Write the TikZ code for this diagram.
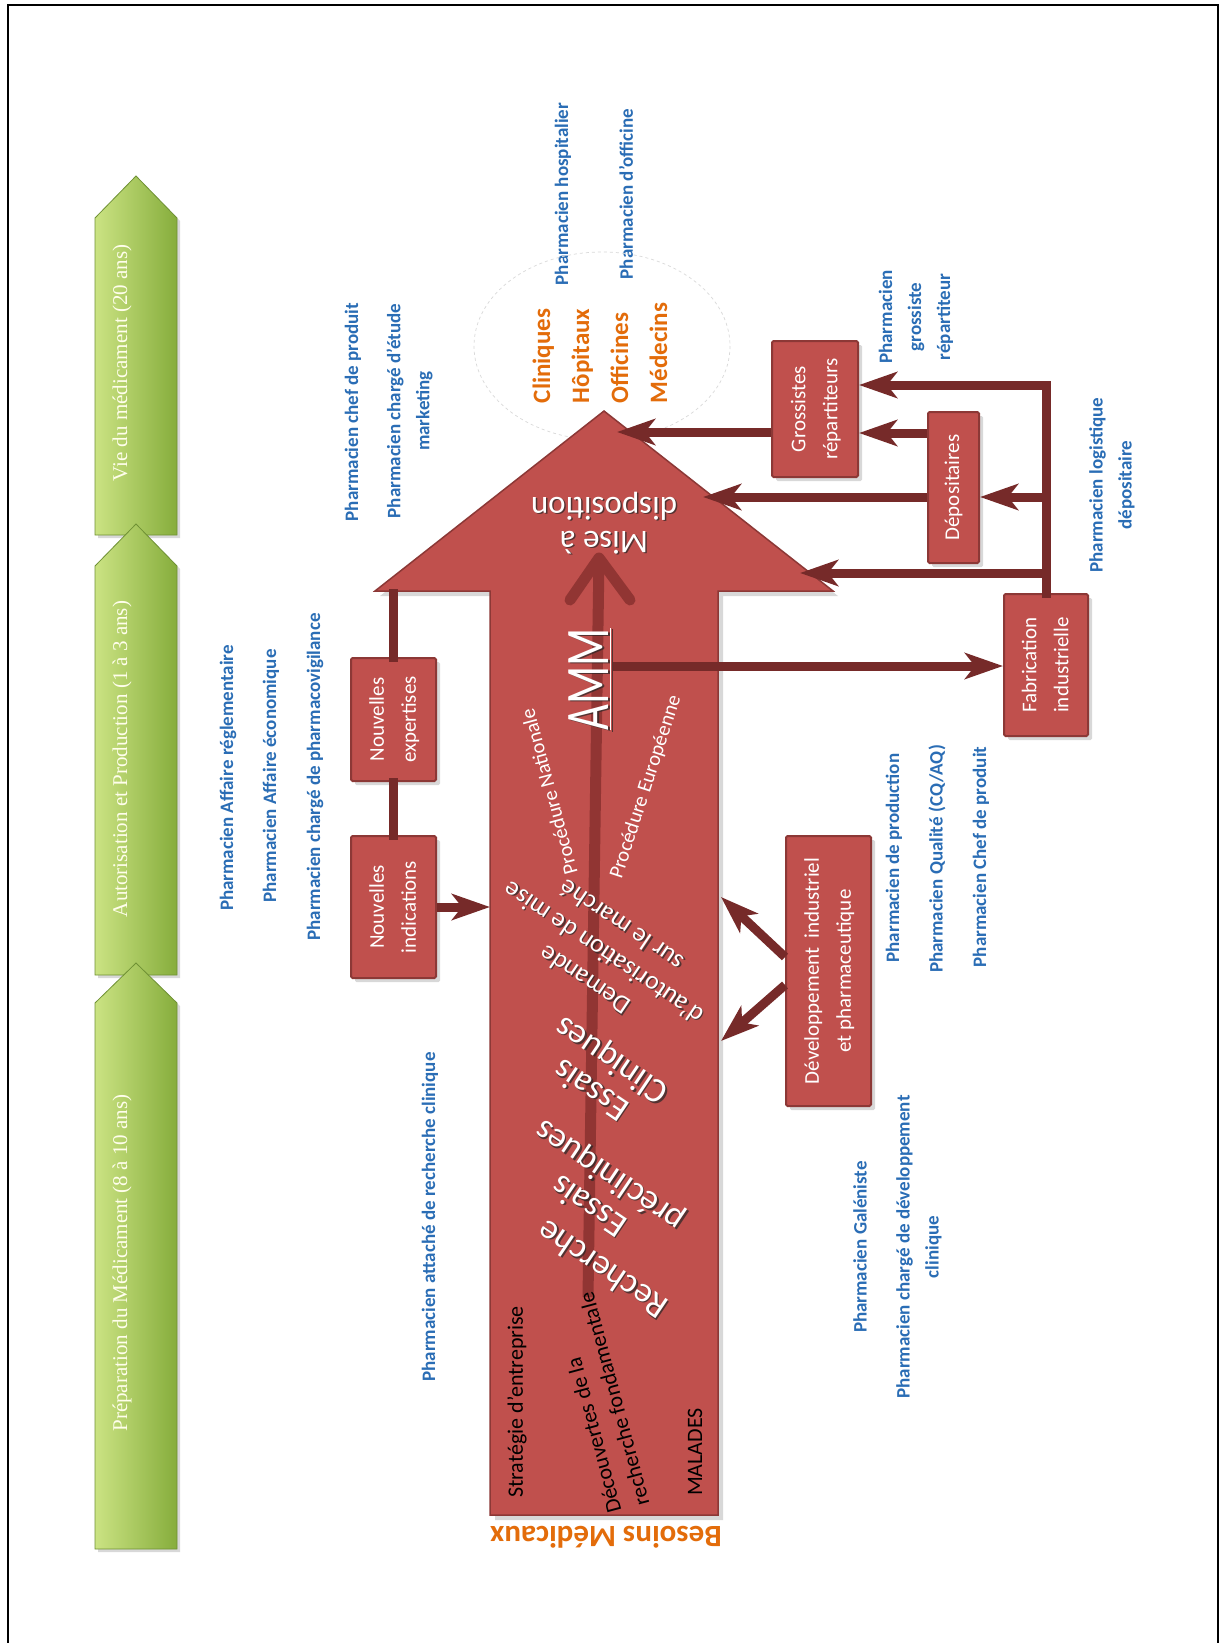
\documentclass[tikz,border=0pt]{standalone}
\usepackage{fontspec}
\usepackage{graphicx}
\setmainfont{Carlito}
\newfontfamily\serifx{Liberation Serif}
\usetikzlibrary{arrows.meta,calc,shadows}
\definecolor{boxred}{HTML}{C0504D}
\definecolor{boxedge}{HTML}{8C3836}
\definecolor{rodc}{HTML}{762A29}
\definecolor{inner}{HTML}{7E2A28}
\definecolor{bluet}{HTML}{2A6DB5}
\definecolor{orng}{HTML}{E36C0A}
\definecolor{gl}{HTML}{CBE383}
\definecolor{gd}{HTML}{86AD3C}
\definecolor{ge}{HTML}{6F9134}
\newcommand\wst[4]{%
  \node[#2,text=black!85,opacity=0.7] (#1-s) at ($(#3)+(1.5,1.5)$) {#4};
  \node[#2,text=white] (#1) at (#3) {#4};}
\begin{document}
\begin{tikzpicture}[x=1pt,y=-1pt,
  redbox/.style={draw=boxedge, line width=2pt, fill=boxred, rounded corners=1.5pt, text=white, inner sep=0pt,
     font=\fontsize{21}{32}\selectfont,
     drop shadow={shadow xshift=4pt, shadow yshift=-4pt, opacity=0.3}},
  bluelab/.style={text=bluet, font=\bfseries\fontsize{19}{29}\selectfont, rotate=90, align=center, inner sep=0pt},
  greenarr/.style={left color=gl, right color=gd, draw=ge, line width=0.8pt,
     drop shadow={shadow xshift=3pt, shadow yshift=-3pt, opacity=0.3}},
  greentxt/.style={text=white!92!yellow, font=\serifx\fontsize{21}{25}\selectfont, rotate=90, inner sep=0pt},
  rod/.style={draw=rodc, line width=9pt, line cap=rect},
  rodarr/.style={draw=rodc, line width=9pt, -{Stealth[length=38pt, width=26pt, inset=10pt]}},
  blk/.style={text=black, font=\fontsize{22}{29}\selectfont, inner sep=0pt},
  slant/.style={font=\fontsize{35}{36}\selectfont, align=center, inner sep=0pt, rotate=146},
]
\useasboundingbox (0,0) rectangle (1223,1643);
\fill[white] (0,0) rectangle (1223,1643);
\draw[line width=1.2pt] (8,1643) -- (8,5) -- (1218,5) -- (1218,1643);

% ---------- green phase arrows
\shade[greenarr] (95,535) -- (95,218) -- (136,176) -- (177,218) -- (177,535) -- cycle;
\shade[greenarr] (95,975) -- (95,566) -- (136,524) -- (177,566) -- (177,975) -- cycle;
\shade[greenarr] (95,1549) -- (95,1003) -- (136,963) -- (177,1003) -- (177,1549) -- cycle;
\node[greentxt] (g1) at (122,363) {Vie du médicament (20 ans)};
\node[greentxt] (g2) at (122,759) {Autorisation et Production (1 à 3 ans)};
\node[greentxt] (g3) at (122,1263) {Préparation du Médicament (8 à 10 ans)};

% ---------- blue labels
\node[bluelab] (bl1) at (353,412) {Pharmacien chef de produit};
\node[bluelab] (bl2) at (409.5,411) {Pharmacien chargé d’étude\\marketing};
\node[bluelab] (bl3) at (563,194) {Pharmacien hospitalier};
\node[bluelab] (bl4) at (626,194) {Pharmacien d’officine};
\node[bluelab] (bl5) at (916,317) {Pharmacien\\grossiste\\répartiteur};
\node[bluelab] (bl6) at (1112,485) {Pharmacien logistique\\dépositaire};
\node[bluelab] (bl7) at (228,778) {Pharmacien Affaire réglementaire};
\node[bluelab] (bl8) at (271,776) {Pharmacien Affaire économique};
\node[bluelab] (bl9) at (315,777) {Pharmacien chargé de pharmacovigilance};
\node[bluelab] (bl10) at (430,1217) {Pharmacien attaché de recherche clinique};
\node[bluelab] (bl11) at (894,858) {Pharmacien de production};
\node[bluelab] (bl12) at (937,859) {Pharmacien Qualité (CQ/AQ)};
\node[bluelab] (bl13) at (981,857) {Pharmacien Chef de produit};
\node[bluelab] (bl14) at (860,1247) {Pharmacien Galéniste};
\node[bluelab] (bl15) at (919,1247) {Pharmacien chargé de développement\\clinique};

% ---------- circle of care places
\draw[black!15, dashed, line width=0.7pt] (602,346) ellipse [x radius=128, y radius=94];
\node[text=orng, font=\bfseries\fontsize{25}{39}\selectfont, rotate=90, align=left, inner sep=0pt] (care) at (600,353)
  {Cliniques\\Hôpitaux\\Officines\\Médecins};

% ---------- big red arrow
\coordinate (tip) at (604,411);
\coordinate (hl) at (375,591);
\coordinate (hr) at (833,591);
\coordinate (sl) at (490,591);
\coordinate (sr) at (718,591);
\coordinate (bl) at (490,1515);
\coordinate (br) at (718,1515);
\filldraw[fill=boxred, draw=boxedge, line width=1.5pt,
  drop shadow={shadow xshift=5pt, shadow yshift=-5pt, opacity=0.3}]
  (bl) -- (sl) -- (hl) -- (tip) -- (hr) -- (sr) -- (br) -- cycle;
\node[text=orng, font=\bfseries\fontsize{31}{31}\selectfont, rotate=180, inner sep=0pt] (besoins) at (606,1537) {Besoins Médicaux};

% ---------- inner progress arrow
\coordinate (ia0) at (588,1297);
\coordinate (ia1) at (599,558);
\begin{scope}[transparency group, opacity=0.7]
\draw[inner, line width=11pt] (ia0) -- (ia1);
\draw[inner, line width=11pt, line cap=round, line join=round] ($(ia1)+(-29,42)$) -- (ia1) -- ($(ia1)+(31,42)$);
\end{scope}

% ---------- boxes
\node[redbox, minimum width=85pt, minimum height=142pt] (ni) at (393.5,907)
  {\rotatebox{90}{\begin{tabular}{@{}c@{}}Nouvelles\\indications\end{tabular}}};
\node[redbox, minimum width=85pt, minimum height=123pt] (ne) at (393.5,719.5)
  {\rotatebox{90}{\begin{tabular}{@{}c@{}}Nouvelles\\expertises\end{tabular}}};
\node[redbox, minimum width=85pt, minimum height=270pt] (dev) at (828.5,971)
  {\rotatebox{90}{\begin{tabular}{@{}c@{}}Développement\ \ industriel\\et pharmaceutique\end{tabular}}};
\node[redbox, minimum width=84pt, minimum height=142pt] (fab) at (1046,665)
  {\rotatebox{90}{\begin{tabular}{@{}c@{}}Fabrication\\industrielle\end{tabular}}};
\node[redbox, minimum width=51pt, minimum height=151pt] (dep) at (953.5,487.5)
  {\rotatebox{90}{Dépositaires}};
\node[redbox, minimum width=86pt, minimum height=136pt] (gr) at (815,409)
  {\rotatebox{90}{\begin{tabular}{@{}c@{}}Grossistes\\répartiteurs\end{tabular}}};

% ---------- connectors
\coordinate (ja) at (393.5,593);
\draw[rod] (ni.north) -- (ne.south);
\draw[rod] (ne.north) -- (ja);
\draw[rodarr] (ni.east) -- (ni.east -| bl);
\coordinate (d1) at (721,897);
\coordinate (d2) at (721,1041);
\draw[rodarr] ($(dev.west)+(0,-14)$) -- (d1);
\draw[rodarr] ($(dev.west)+(0,14)$) -- (d2);
\coordinate (am) at (613,666);
\draw[rodarr] (am) -- (am -| fab.west);
\coordinate (t1) at (1046,385);
\coordinate (t2) at (1046,497);
\coordinate (t3) at (1046,573);
\draw[rod] (fab.north) -- (t1);
\draw[rodarr] (t1) -- (t1 -| gr.east);
\draw[rodarr] (t2) -- (t2 -| dep.east);
\coordinate (h3) at (800,573);
\draw[rodarr] (t3) -- (h3);
\coordinate (r433) at (900,433);
\draw[rodarr] (r433 -| dep.west) -- (r433 -| gr.east);
\coordinate (h2) at (703,497);
\draw[rodarr] (h2 -| dep.west) -- (h2);
\coordinate (h1) at (617,432);
\draw[rodarr] (h1 -| gr.west) -- (h1);

% ---------- texts in the big arrow
\wst{amm}{rotate=90, inner sep=0pt}{590,679}{\scalebox{0.72}[1]{\fontsize{62}{62}\selectfont\underline{AMM}}}
\wst{mise}{rotate=180, align=center, inner sep=0pt, font=\fontsize{33}{34}\selectfont}{604,523}{Mise à\\disposition}
\wst{rech}{slant}{602,1270}{Recherche}
\wst{epc}{slant}{600,1190}{Essais\\précliniques}
\wst{ecl}{slant}{602,1074}{Essais\\Cliniques}
\wst{amd}{slant, font=\fontsize{26}{33}\selectfont}{603,953}{Demande\\d’autorisation de mise\\sur le marché}
\node[text=white, font=\fontsize{20.5}{24}\selectfont, rotate=105, inner sep=0pt] (pn) at (549,792) {Procédure Nationale};
\node[text=white, font=\fontsize{20.5}{25}\selectfont, rotate=72, inner sep=0pt] (pe) at (646,787) {Procédure Européenne};
\node[blk, rotate=90] (strat) at (517,1402) {Stratégie d’entreprise};
\node[blk, rotate=105, align=left] (decouv) at (600,1403) {Découvertes de la\\recherche fondamentale};
\node[blk, rotate=90] (malades) at (695,1452) {MALADES};
\end{tikzpicture}
\end{document}
